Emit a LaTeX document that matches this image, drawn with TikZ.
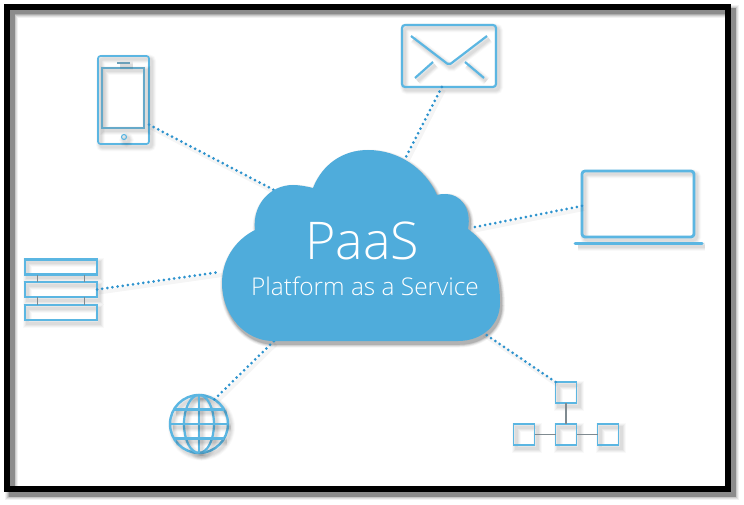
\documentclass[tikz,border=0pt]{standalone}
\usepackage{fontspec}
\setmainfont{Open Sans Light}
\usetikzlibrary{calc}
\definecolor{cloudblue}{HTML}{4FACDB}
\definecolor{iconblue}{HTML}{5BB6E2}
\definecolor{dotblue}{HTML}{2E93CE}
\definecolor{linkgray}{HTML}{7F8A90}
\begin{document}
\begin{tikzpicture}[
 x=1pt,y=-1pt,
 softshadow/.style={
  preaction={draw=black,draw opacity=.025,line width=9pt,transform canvas={shift={(2.5,3)}}},
  preaction={draw=black,draw opacity=.035,line width=7pt,transform canvas={shift={(2.5,3)}}},
  preaction={draw=black,draw opacity=.04,line width=5pt,transform canvas={shift={(2.5,3)}}},
  preaction={draw=black,draw opacity=.04,line width=3pt,transform canvas={shift={(2.5,3)}}}},
 icon/.style={draw=iconblue,line width=#1,softshadow,inner sep=0pt,outer sep=0pt},
 icon/.default=2pt,
 box/.style={icon=1.9pt,minimum width=21pt,minimum height=21pt},
 shelf/.style={icon=2.2pt,minimum width=72pt,minimum height=15pt},
 link/.style={draw=linkgray,line width=1.5pt},
 dots/.style={draw=dotblue,line width=3pt,line cap=round,dash pattern=on 0pt off 5.2pt,
  preaction={draw=black,draw opacity=.04,solid,line width=4pt,transform canvas={shift={(2,3)}}}},
 label/.style={text=white,inner sep=0pt,outer sep=0pt,anchor=base}
]
\useasboundingbox (0,0) rectangle (744,505);
\fill[white] (0,0) rectangle (744,505);
% frame
\foreach \w/\o in {13/.05,11/.07,9/.1,7.5/.14,6/.18} {
 \path[draw=black,draw opacity=\o,line width=\w pt,transform canvas={shift={(4.5,4.5)}}] (7,7) rectangle (728,489);
}
\draw[black,line width=6pt] (7,7) rectangle (728,489);
% where the links meet the cloud
\coordinate (cloud-phone) at (274,190);
\coordinate (cloud-mail) at (406,157);
\coordinate (cloud-laptop) at (470,228);
\coordinate (cloud-shelf) at (220,272);
\coordinate (cloud-globe) at (274,341);
\coordinate (cloud-tree) at (482,332);
% devices
\node (phone) [icon=1.7pt,rounded corners=2.5pt,minimum width=51pt,minimum height=88pt] at (123.5,100) {};
\node (phone-screen) [icon=1.1pt,draw=iconblue!70!linkgray,minimum width=42pt,minimum height=60pt] at (123,98) {};
\node (phone-button) [icon=1.1pt,circle,minimum size=5pt] at (124,137) {};
\draw[icon=1.1pt,draw=linkgray!50!iconblue] (117,63) -- (130,63);
\node (mail) [icon=2.2pt,rounded corners=3pt,minimum width=94pt,minimum height=62pt] at (449,56) {};
\draw[icon=2.2pt,line join=round,rounded corners=2pt] (411,36) -- (449,65) -- (487,36);
\draw[icon=2.2pt] (415,78) -- (433,62);
\draw[icon=2.2pt] (465,62) -- (484,78);
\node (laptop) [icon=2.8pt,rounded corners=3pt,minimum width=112pt,minimum height=66pt] at (638,204) {};
\draw[icon=3pt,line cap=round] (575,243) -- (702,243);
\node (shelf-top) [shelf] at (61,267) {};
\node (shelf-mid) [shelf] at (61,289.5) {};
\node (shelf-low) [shelf] at (61,312.5) {};
\foreach \side in {-23.5,23.5} {
 \draw[link] ($(shelf-top.south)+(\side,0)$) -- ($(shelf-mid.north)+(\side,0)$);
 \draw[link] ($(shelf-mid.south)+(\side,0)$) -- ($(shelf-low.north)+(\side,0)$);
}
\node (globe) [icon=2.4pt,circle,minimum size=58pt] at (199,424) {};
\draw[icon=2.2pt] (globe) ellipse (15 and 29);
\draw[icon=2.2pt] (globe.north) -- (globe.south);
\draw[icon=2.2pt] (globe.west) -- (globe.east);
\draw[icon=2.2pt] (globe.150) -- (globe.30);
\draw[icon=2.2pt] (globe.210) -- (globe.330);
\node (tree-top) [box] at (566,392.5) {};
\node (tree-mid) [box] at (566,434.5) {};
\node (tree-left) [box] at (524,434.5) {};
\node (tree-right) [box] at (608,434.5) {};
\draw[link] (tree-top) -- (tree-mid);
\draw[link] (tree-left) -- (tree-mid);
\draw[link] (tree-mid) -- (tree-right);
% cloud
\def\cloudpath{(273,341) -- (458,341)
 .. controls (482,341) and (500,325) .. (500,303)
 .. controls (500,270) and (490,245) .. (468,229)
 .. controls (472,208) and (460,194) .. (446,194)
 .. controls (442,194) and (440,194) .. (437,195)
 .. controls (425,168) and (398,150) .. (368,150)
 .. controls (342,150) and (322,165) .. (313,188)
 .. controls (305,186) and (298,185) .. (293,185)
 .. controls (270,185) and (252,205) .. (255,230)
 .. controls (235,240) and (222,260) .. (222,283)
 .. controls (222,315) and (245,341) .. (273,341) -- cycle}
\foreach \w/\o in {7/.04,5.5/.05,4/.07,2.5/.08,1.5/.1} {
 \path[draw=black,draw opacity=\o,line width=\w pt,transform canvas={shift={(1.5,3)}}] \cloudpath;
}
\path[fill=black!30,transform canvas={shift={(1.5,3)}}] \cloudpath;
% links
\draw[dots] (phone.-44.4) -- (cloud-phone);
\draw[dots] (mail.257.3) -- (cloud-mail);
\draw[dots] (laptop.182) -- (cloud-laptop);
\draw[dots] (shelf-mid.east) -- (cloud-shelf);
\draw[dots] (globe.58) -- (cloud-globe);
\draw[dots] (tree-top.north west) -- (cloud-tree);
\fill[cloudblue] \cloudpath;
\node (paas-title) [label,font=\fontsize{52}{52}\selectfont] at (362,259) {PaaS};
\node (paas-name) [label,font=\fontsize{24.4}{26}\selectfont] at (365,295) {Platform as a Service};
\end{tikzpicture}
\end{document}
